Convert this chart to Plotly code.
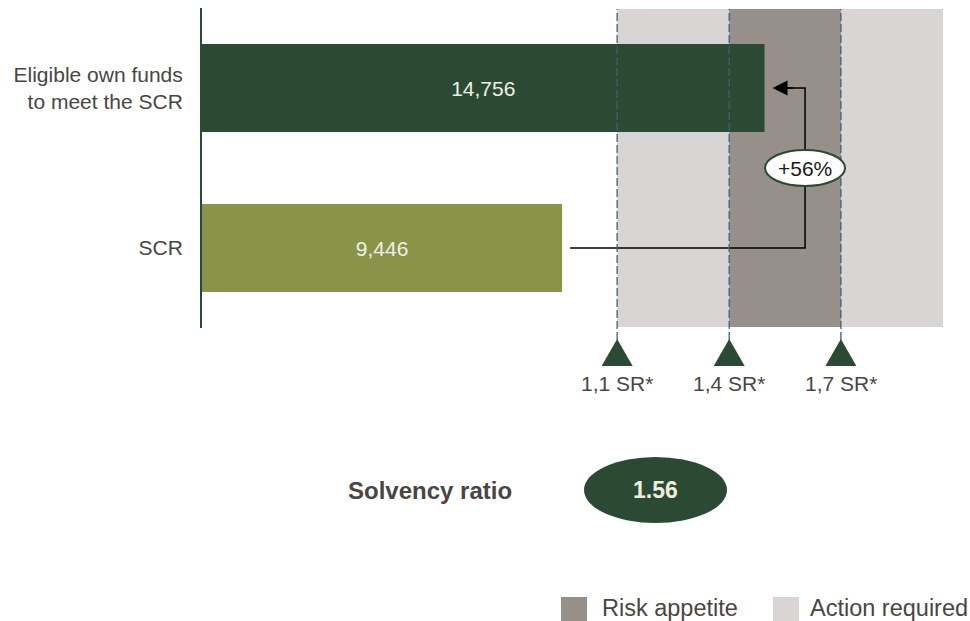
import plotly.graph_objects as go

# ---------------- data ----------------
CATEGORIES = ["Eligible own funds<br>to meet the SCR", "SCR"]
VALUES = [14756, 9446]
BAR_COLORS = ["#2c4a33", "#89944a"]
THRESH_LABELS = ["1,1 SR*", "1,4 SR*", "1,7 SR*"]
THRESH_X = [10890, 13830, 16760]
ZONE_END = 19440
LEGEND_LABELS = ["Risk appetite", "Action required"]
ARROW_X = 15820

eligible, scr = VALUES
ratio = eligible / scr
pct_txt = f"+{round((ratio - 1) * 100)}%"
ratio_txt = f"{ratio:.2f}"

# ---------------- style ----------------
FONT = "Liberation Sans, Arial, sans-serif"
TEXT = "#4a4542"
DARK = "#2c4a33"
LIGHT_GREY = "#d9d5d4"
RISK_GREY = "#978f89"
DASH = "#3e5f7a"

W, H = 970, 621
ML, MT, MB = 202, 8, 293
PLOT_H = H - MT - MB
PX_PER_UNIT = 0.03812
XMAX = (W - ML) / PX_PER_UNIT


def py(p):
    return (H - MB - p) / PLOT_H


def px(p):
    return (p - ML) / (W - ML)


def dx(pixels):
    return pixels / PX_PER_UNIT


ypos = [1, 0]

fig = go.Figure()

fig.add_trace(go.Bar(
    x=VALUES, y=ypos, orientation="h",
    marker=dict(color=BAR_COLORS, line=dict(width=0)),
    width=0.55,
    text=[f"{v:,}" for v in VALUES],
    textposition="inside", insidetextanchor="middle",
    textfont=dict(size=21, color="#eef0e6", family=FONT),
    hoverinfo="skip", showlegend=False,
))

# connector arrow line
fig.add_trace(go.Scatter(
    x=[scr + dx(8), ARROW_X, ARROW_X, eligible + dx(20)],
    y=[0, 0, 1, 1],
    mode="lines", line=dict(color="black", width=1.5),
    hoverinfo="skip", showlegend=False,
))

shapes = []
# zones
shapes.append(dict(type="rect", xref="x", yref="paper", x0=THRESH_X[0], x1=ZONE_END,
                   y0=py(327), y1=py(9), fillcolor=LIGHT_GREY, line=dict(width=0), layer="below"))
shapes.append(dict(type="rect", xref="x", yref="paper", x0=THRESH_X[1], x1=THRESH_X[2],
                   y0=py(327), y1=py(9), fillcolor=RISK_GREY, line=dict(width=0), layer="below"))
# dashed threshold lines
for t in THRESH_X:
    shapes.append(dict(type="line", xref="x", yref="paper", x0=t, x1=t,
                       y0=py(340), y1=py(9), line=dict(color=DASH, width=1.3, dash="8px,3px"),
                       layer="above"))
# triangles
hw = dx(15.5)
for t in THRESH_X:
    shapes.append(dict(type="path", xref="x", yref="paper",
                       path=f"M{t - hw},{py(366)} L{t + hw},{py(366)} L{t},{py(339)} Z",
                       fillcolor=DARK, line=dict(width=0)))
# +56% ellipse
shapes.append(dict(type="circle", xref="x", yref="y", xsizemode="pixel", ysizemode="pixel",
                   xanchor=ARROW_X, yanchor=0.5, x0=-40, x1=40, y0=-18, y1=18,
                   fillcolor="white", line=dict(color=DARK, width=2), layer="above"))
# solvency ratio ellipse
shapes.append(dict(type="circle", xref="paper", yref="paper",
                   x0=px(584), x1=px(727), y0=py(523), y1=py(457),
                   fillcolor=DARK, line=dict(width=0)))
# legend squares
for x0, col in [(561, RISK_GREY), (773, LIGHT_GREY)]:
    shapes.append(dict(type="rect", xref="paper", yref="paper",
                       x0=px(x0), x1=px(x0 + 26), y0=py(623), y1=py(597),
                       fillcolor=col, line=dict(width=0)))

annotations = []
annotations.append(dict(x=eligible + dx(8), y=1, ax=eligible + dx(30), ay=1,
                        xref="x", yref="y", axref="x", ayref="y", text="",
                        showarrow=True, arrowhead=2, arrowsize=2, arrowwidth=1.5,
                        arrowcolor="black"))
annotations.append(dict(x=ARROW_X, y=0.5, xref="x", yref="y", text=pct_txt, showarrow=False,
                        xanchor="center", yanchor="middle",
                        font=dict(size=21, color="#1a1a1a", family=FONT)))
for t, lab in zip(THRESH_X, THRESH_LABELS):
    annotations.append(dict(x=t, y=py(383), xref="x", yref="paper", text=lab, showarrow=False,
                            xanchor="center", yanchor="middle",
                            font=dict(size=21, color=TEXT, family=FONT)))
annotations.append(dict(x=px(430), y=py(490), xref="paper", yref="paper",
                        text="<b>Solvency ratio</b>", showarrow=False,
                        xanchor="center", yanchor="middle",
                        font=dict(size=24, color=TEXT, family=FONT)))
annotations.append(dict(x=px(655), y=py(490), xref="paper", yref="paper",
                        text=f"<b>{ratio_txt}</b>", showarrow=False,
                        xanchor="center", yanchor="middle",
                        font=dict(size=23, color="#eeeedd", family=FONT)))
for x0, lab in [(600, LEGEND_LABELS[0]), (808, LEGEND_LABELS[1])]:
    annotations.append(dict(x=px(x0), y=py(608), xref="paper", yref="paper",
                            xanchor="left", yanchor="middle",
                            text=lab, showarrow=False,
                            font=dict(size=23.5, color=TEXT, family=FONT)))

fig.update_layout(
    width=W, height=H,
    margin=dict(l=ML, r=0, t=MT, b=MB, pad=0),
    paper_bgcolor="white", plot_bgcolor="white",
    shapes=shapes, annotations=annotations,
    showlegend=False,
    xaxis=dict(range=[0, XMAX], visible=False, showgrid=False, zeroline=False, fixedrange=True),
    yaxis=dict(range=[-0.5, 1.5], tickvals=ypos, ticktext=CATEGORIES,
               showgrid=False, zeroline=False, showline=True, linecolor=DARK, linewidth=2,
               ticks="", ticklabelstandoff=13,
               tickfont=dict(size=21, color=TEXT, family=FONT), fixedrange=True),
    font=dict(family=FONT),
)

fig.write_html("out.html", config={"displayModeBar": False},
               post_script="document.body.style.margin='0';document.body.style.overflow='hidden';")
